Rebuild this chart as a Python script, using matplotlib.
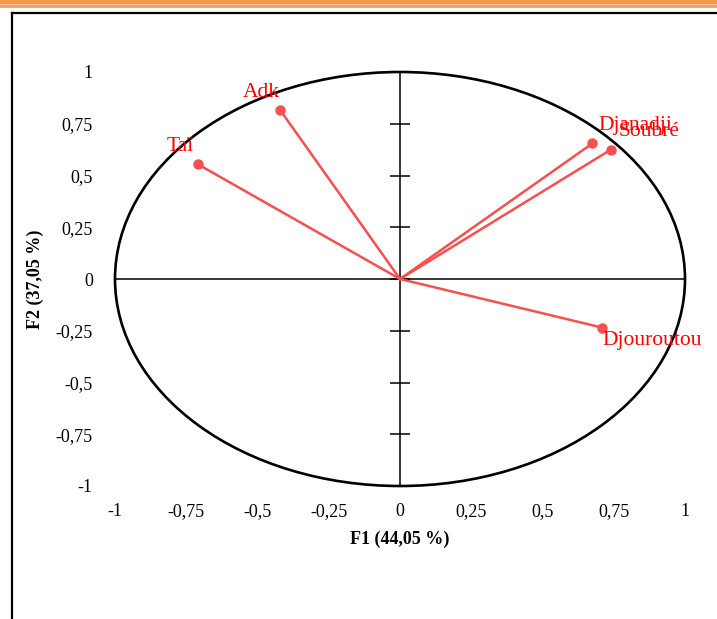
import matplotlib.pyplot as plt
import numpy as np
from matplotlib.patches import Ellipse, Rectangle
from matplotlib.lines import Line2D

# correlation circle data (F1, F2)
variables = ['Adk', 'Taï', 'Djanadji', 'Soubré', 'Djouroutou']
f1 = [-0.42, -0.71, 0.675, 0.74, 0.71]
f2 = [0.815, 0.555, 0.655, 0.625, -0.235]
label_offsets = [(-19, 18), (-17, 18), (43, 18), (38, 18), (50, -13)]

ticks = [-1, -0.75, -0.5, -0.25, 0, 0.25, 0.5, 0.75, 1]
tick_labels = ['-1', '-0,75', '-0,5', '-0,25', '0', '0,25', '0,5', '0,75', '1']

plt.rcParams['font.family'] = ['Liberation Serif', 'DejaVu Serif']

W, H = 717, 619
fig = plt.figure(figsize=(W / 100, H / 100), dpi=100)

# decorative page border
fig.add_artist(Rectangle((0, 1 - 3.5 / H), 1, 3.5 / H, transform=fig.transFigure,
                         color='#f79646', lw=0))
fig.add_artist(Rectangle((0, 1 - 5 / H), 1, 1.5 / H, transform=fig.transFigure,
                         color='#fbc8a0', lw=0))
fig.add_artist(Rectangle((0, 1 - 7.5 / H), 1, 2.5 / H, transform=fig.transFigure,
                         color='#f9a25a', lw=0))
fig.add_artist(Line2D([11.5 / W, 11.5 / W], [0, 1 - 12.5 / H], transform=fig.transFigure,
                      color='black', lw=1.6))
fig.add_artist(Line2D([11.5 / W, 1], [1 - 12.5 / H, 1 - 12.5 / H], transform=fig.transFigure,
                      color='black', lw=1.6))

ax = fig.add_axes([115 / W, (H - 486) / H, 570 / W, 414 / H])
ax.set_xlim(-1, 1)
ax.set_ylim(-1, 1)
for s in ax.spines.values():
    s.set_visible(False)

ax.add_patch(Ellipse((0, 0), 2, 2, fill=False, ec='black', lw=1.9, clip_on=False))
ax.plot([-1, 1], [0, 0], color='black', lw=1.1, clip_on=False)
ax.plot([0, 0], [-1, 1], color='black', lw=1.1, clip_on=False)
ax.plot(np.zeros(len(ticks)), ticks, linestyle='none', marker='_', markersize=14,
        markeredgewidth=1.1, color='black', clip_on=False)

for name, x, y, off in zip(variables, f1, f2, label_offsets):
    ax.plot([0, x], [0, y], color='#f5504f', lw=1.8, clip_on=False)
    ax.plot(x, y, 'o', color='#f5504f', markersize=6.5, clip_on=False)
    ax.annotate(name, (x, y), xytext=off, textcoords='offset pixels',
                ha='center', va='center', color='red', fontsize=15.5)

ax.set_xticks(ticks, tick_labels)
ax.set_yticks(ticks, tick_labels)
ax.tick_params(axis='both', length=0, labelsize=13)
ax.tick_params(axis='x', pad=12)
ax.tick_params(axis='y', pad=16)

ax.set_xlabel('F1 (44,05 %)', fontsize=13, fontweight='bold', labelpad=8)
ax.set_ylabel('F2 (37,05 %)', fontsize=13, fontweight='bold', labelpad=8)

fig.savefig('out.png', dpi=100)
